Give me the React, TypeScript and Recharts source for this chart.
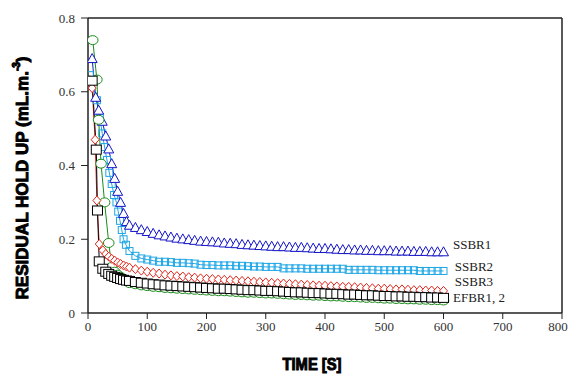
import {
  LineChart,
  Line,
  XAxis,
  YAxis,
  ReferenceLine,
  ReferenceDot,
} from "recharts";

// time (s) from 70 s on, shared by every series tail
const tailTime = [
  70, 80, 90, 100, 110, 120, 130, 140, 150, 160, 170, 180, 190, 200,
  210, 220, 230, 240, 250, 260, 270, 280, 290, 300,
  310, 320, 330, 340, 350, 360, 370, 380, 390, 400,
  410, 420, 430, 440, 450, 460, 470, 480, 490, 500,
  510, 520, 530, 540, 550, 560, 570, 580, 590, 600,
];

// SSBR1
const ssbr1EarlyTime = [7, 13, 18, 24, 30, 35, 40, 45, 50, 55, 60, 65];
const ssbr1Early = [0.69, 0.585, 0.55, 0.52, 0.48, 0.445, 0.405, 0.365, 0.33, 0.3, 0.27, 0.248];
const ssbr1Tail = [
  0.238, 0.232, 0.226, 0.221,
  0.216, 0.212, 0.209, 0.206, 0.203, 0.201, 0.199, 0.197, 0.195, 0.194,
  0.193, 0.192, 0.19, 0.189, 0.188, 0.186, 0.185, 0.184, 0.183, 0.182,
  0.181, 0.18, 0.18, 0.179, 0.178, 0.178, 0.177, 0.176, 0.175, 0.175,
  0.174, 0.173, 0.172, 0.172, 0.171, 0.171, 0.17, 0.17, 0.169, 0.169,
  0.169, 0.168, 0.168, 0.168, 0.167, 0.167, 0.167, 0.166, 0.166, 0.166,
];

// SSBR2
const ssbr2EarlyTime = [3, 15, 20, 24, 28, 32, 36, 40, 44, 48, 51, 54, 57, 60, 64];
const ssbr2Early = [0.645, 0.577, 0.53, 0.487, 0.45, 0.415, 0.38, 0.35, 0.32, 0.3, 0.275, 0.25, 0.225, 0.2, 0.185];
const ssbr2Tail = [
  0.168, 0.155, 0.148, 0.145,
  0.142, 0.139, 0.139, 0.138, 0.136, 0.136, 0.135, 0.134, 0.131, 0.13,
  0.13, 0.129, 0.129, 0.129, 0.128, 0.128, 0.127, 0.126, 0.126, 0.125,
  0.125, 0.125, 0.121, 0.121, 0.121, 0.121, 0.12, 0.12, 0.12, 0.12,
  0.12, 0.12, 0.12, 0.117, 0.117, 0.117, 0.117, 0.117, 0.116, 0.116,
  0.116, 0.116, 0.116, 0.116, 0.116, 0.114, 0.114, 0.114, 0.114, 0.114,
];

// SSBR3
const ssbr3EarlyTime = [7, 12, 15, 19, 25, 30, 35, 40, 45, 50, 55, 60, 65];
const ssbr3Early = [0.61, 0.47, 0.305, 0.187, 0.17, 0.16, 0.153, 0.147, 0.142, 0.137, 0.133, 0.129, 0.126];
const ssbr3Tail = [
  0.123, 0.119, 0.115, 0.112,
  0.109, 0.107, 0.104, 0.102, 0.1, 0.099, 0.097, 0.096, 0.094, 0.093,
  0.092, 0.091, 0.09, 0.089, 0.088, 0.087, 0.086, 0.085, 0.084, 0.083,
  0.082, 0.081, 0.08, 0.079, 0.078, 0.077, 0.076, 0.075, 0.074, 0.074,
  0.073, 0.072, 0.071, 0.071, 0.07, 0.069, 0.068, 0.067, 0.066, 0.066,
  0.065, 0.064, 0.064, 0.063, 0.062, 0.062, 0.061, 0.061, 0.06, 0.06,
];

// EFBR1
const efbr1EarlyTime = [7, 14, 16, 19, 25, 30, 35, 40, 45, 50, 55, 60, 65];
const efbr1Early = [0.63, 0.443, 0.278, 0.14, 0.12, 0.112, 0.106, 0.101, 0.098, 0.095, 0.092, 0.09, 0.088];
const efbr1Tail = [
  0.087, 0.084, 0.082, 0.08,
  0.078, 0.077, 0.075, 0.074, 0.073, 0.072, 0.071, 0.07, 0.069, 0.068,
  0.067, 0.066, 0.066, 0.065, 0.064, 0.063, 0.062, 0.062, 0.061, 0.06,
  0.06, 0.059, 0.058, 0.057, 0.056, 0.056, 0.055, 0.054, 0.054, 0.053,
  0.052, 0.052, 0.051, 0.05, 0.05, 0.049, 0.048, 0.048, 0.047, 0.046,
  0.046, 0.045, 0.045, 0.044, 0.044, 0.043, 0.043, 0.042, 0.042, 0.041,
];

// EFBR2
const efbr2EarlyTime = [8, 15, 18, 22, 28, 35, 40, 45, 50, 55, 60, 65];
const efbr2Early = [0.74, 0.633, 0.524, 0.405, 0.3, 0.19, 0.125, 0.112, 0.104, 0.098, 0.093, 0.088];
const efbr2Tail = [
  0.081, 0.078, 0.075, 0.073,
  0.071, 0.07, 0.068, 0.067, 0.066, 0.065, 0.064, 0.063, 0.062, 0.061,
  0.06, 0.059, 0.059, 0.058, 0.057, 0.056, 0.055, 0.055, 0.054, 0.053,
  0.053, 0.052, 0.051, 0.05, 0.049, 0.049, 0.048, 0.047, 0.047, 0.046,
  0.045, 0.045, 0.044, 0.043, 0.043, 0.042, 0.041, 0.041, 0.04, 0.039,
  0.039, 0.038, 0.038, 0.037, 0.037, 0.036, 0.036, 0.035, 0.035, 0.034,
];

const xTicks = [0, 100, 200, 300, 400, 500, 600, 700, 800];
const yTicks = [0, 0.2, 0.4, 0.6, 0.8];

const endLabels = [
  { name: "SSBR1", t: 616, v: 0.187 },
  { name: "SSBR2", t: 619, v: 0.1256 },
  { name: "SSBR3", t: 619, v: 0.085 },
  { name: "EFBR1, 2", t: 616, v: 0.0415 },
];

const build = (et: number[], ev: number[], tv: number[]) =>
  et.map((t, i) => ({ t, v: ev[i] })).concat(tailTime.map((t, i) => ({ t, v: tv[i] })));

const ssbr1 = build(ssbr1EarlyTime, ssbr1Early, ssbr1Tail);
const ssbr2 = build(ssbr2EarlyTime, ssbr2Early, ssbr2Tail);
const ssbr3 = build(ssbr3EarlyTime, ssbr3Early, ssbr3Tail);
const efbr1 = build(efbr1EarlyTime, efbr1Early, efbr1Tail);
const efbr2 = build(efbr2EarlyTime, efbr2Early, efbr2Tail);

const BLUE = "#1414c8";
const CYAN = "#1ea6e6";
const RED = "#e0281e";
const GREEN = "#1a8c1a";
const SERIF = "Liberation Serif, Times New Roman, serif";
const HEAVY = "Liberation Sans, Arial, sans-serif";

const triangle = (p: any) => (
  <path
    key={`tr${p.index}`}
    d={`M${p.cx},${p.cy - 5} L${p.cx + 5},${p.cy + 4} L${p.cx - 5},${p.cy + 4} Z`}
    fill="#fff"
    stroke={BLUE}
    strokeWidth={1}
  />
);
const cyanSquare = (p: any) => (
  <rect key={`cs${p.index}`} x={p.cx - 3.5} y={p.cy - 3.5} width={7} height={7} fill="none" stroke={CYAN} strokeWidth={1} />
);
const diamond = (p: any) => (
  <path
    key={`di${p.index}`}
    d={`M${p.cx},${p.cy - 4.5} L${p.cx + 4},${p.cy} L${p.cx},${p.cy + 4.5} L${p.cx - 4},${p.cy} Z`}
    fill="#fff"
    stroke={RED}
    strokeWidth={1}
  />
);
const blackSquare = (p: any) => (
  <rect key={`bs${p.index}`} x={p.cx - 5} y={p.cy - 4.5} width={10} height={9} fill="#fff" stroke="#000" strokeWidth={1} />
);
const circle = (p: any) => (
  <ellipse key={`ci${p.index}`} cx={p.cx} cy={p.cy} rx={5.3} ry={4.5} fill="#fff" stroke={GREEN} strokeWidth={1} />
);

const XTick = (p: any) => (
  <text x={p.x} y={p.y} dy="0.71em" textAnchor="middle" fontFamily={SERIF} fontSize={13} fill="#333">
    {p.payload.value}
  </text>
);
const YTick = (p: any) => (
  <text x={p.x} y={p.y} dy="0.355em" textAnchor="end" fontFamily={SERIF} fontSize={13} fill="#333">
    {p.payload.value === 0 ? "0" : Number(p.payload.value).toFixed(1)}
  </text>
);

const yTitle = () => (
  <text
    x={22}
    y={178}
    transform="rotate(-90 22 178)"
    textAnchor="middle"
    dominantBaseline="central"
    fontFamily={HEAVY}
    fontWeight={700}
    fontSize={17}
    textLength={243}
    lengthAdjust="spacingAndGlyphs"
    fill="#000"
    stroke="#000"
    strokeWidth={1}
  >
    RESIDUAL HOLD UP (mL.m.<tspan baselineShift="super" fontSize={10}>-3</tspan>)
  </text>
);

const xTitle = () => (
  <text
    x={312}
    y={364}
    textAnchor="middle"
    dominantBaseline="central"
    fontFamily={HEAVY}
    fontWeight={700}
    fontSize={16}
    textLength={59}
    lengthAdjust="spacingAndGlyphs"
    fill="#000"
    stroke="#000"
    strokeWidth={1}
  >
    TIME [S]
  </text>
);

export default function App() {
  return (
    <div style={{ position: "absolute", left: 0, top: 0, background: "#fff" }}>
      <LineChart width={570} height={375} margin={{ top: 18, right: 8, left: 0, bottom: 0 }}>
        <XAxis
          dataKey="t"
          type="number"
          domain={[0, 800]}
          ticks={xTicks}
          height={62}
          tickSize={6}
          tickMargin={3}
          tick={XTick}
          axisLine={{ stroke: "#222", strokeWidth: 1.5 }}
          tickLine={{ stroke: "#222" }}
          label={{ content: xTitle }}
          allowDataOverflow
        />
        <YAxis
          type="number"
          domain={[0, 0.8]}
          ticks={yTicks}
          width={88}
          tickSize={7}
          tickMargin={6}
          tick={YTick}
          axisLine={{ stroke: "#222", strokeWidth: 1.5 }}
          tickLine={{ stroke: "#222" }}
          label={{ content: yTitle }}
          allowDataOverflow
        />
        <ReferenceLine y={0.8} stroke="#222" strokeWidth={1.5} />
        <ReferenceLine x={800} stroke="#222" strokeWidth={1.5} />

        <Line data={ssbr2} dataKey="v" type="linear" stroke={CYAN} strokeWidth={1} dot={cyanSquare} activeDot={false} isAnimationActive={false} />
        <Line data={ssbr1} dataKey="v" type="linear" stroke={BLUE} strokeWidth={1} dot={triangle} activeDot={false} isAnimationActive={false} />
        <Line data={efbr2} dataKey="v" type="linear" stroke={GREEN} strokeWidth={1} dot={circle} activeDot={false} isAnimationActive={false} />
        <Line data={ssbr3} dataKey="v" type="linear" stroke={RED} strokeWidth={1} dot={diamond} activeDot={false} isAnimationActive={false} />
        <Line data={efbr1} dataKey="v" type="linear" stroke="#000" strokeWidth={1} dot={blackSquare} activeDot={false} isAnimationActive={false} />

        {endLabels.map((l) => (
          <ReferenceDot
            key={l.name}
            x={l.t}
            y={l.v}
            r={0}
            fill="none"
            stroke="none"
            label={{
              value: l.name,
              position: "right",
              offset: 0,
              fill: "#222",
              fontSize: 13,
              fontFamily: SERIF,
            }}
          />
        ))}
      </LineChart>
    </div>
  );
}
